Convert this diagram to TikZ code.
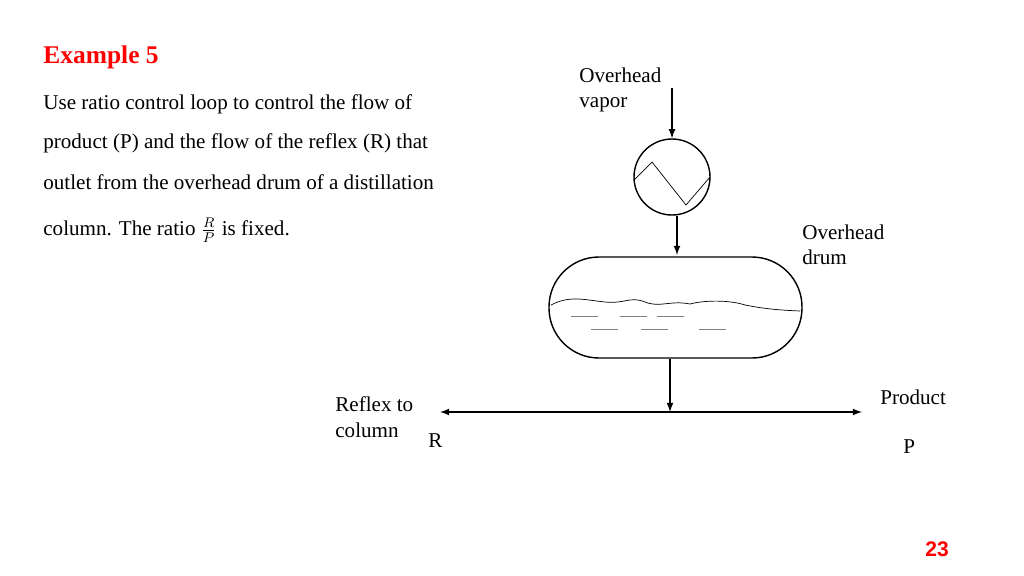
\documentclass[tikz,border=0pt]{standalone}
\usepackage{fontspec}
\setmainfont{Liberation Serif}
\newfontfamily\numfont{Liberation Sans}
\usetikzlibrary{arrows}
\begin{document}
\begin{tikzpicture}[x=0.02cm,y=-0.02cm,
    txt/.style={anchor=west,font=\fontsize{12}{14.5}\selectfont,inner sep=0pt},
    flow/.style={thick,-latex}]
        \useasboundingbox (0,0) rectangle (1024,575);

        % Title and statement
        \node[txt,font=\fontsize{14.5}{16}\selectfont\bfseries,text=red] (title) at (43,57) {Example 5};
        \node[txt] (l1) at (43,104) {Use ratio control loop to control the flow of};
        \node[txt] (l2) at (43,143) {product (P) and the flow of the reflex (R) that};
        \node[txt] (l3) at (43,182) {outlet from the overhead drum of a distillation};
        \node[txt] (l4) at (43,230) {column. The ratio $\frac{R}{P}$ is fixed.};

        % Condenser
        \node[draw,thick,circle,minimum size=76*0.02cm,inner sep=0pt] (cond) at (672,177) {};
        \draw (634,180) -- (652,162) -- (686,205) -- (710,177);
        \coordinate (vin) at (672,88);
        \draw[flow] (vin) -- (cond.north);
        \node[txt,align=left] (vap) at (579,90) {Overhead\\vapor};

        % Overhead drum
        \node[draw,thick,rounded corners=50*0.02cm,minimum width=253*0.02cm,minimum height=101*0.02cm] (drum) at (675.5,307.5) {};
        \coordinate (c1) at (677,216);
        \coordinate (c2) at (677,255);
        \draw[flow] (c1) -- (c2);
        \node[txt,align=left] (drumlbl) at (802,245) {Overhead\\drum};

        % Liquid surface
        \draw (551,305) .. controls (570,295) and (585,300) .. (605,302)
            .. controls (625,304) and (630,296) .. (645,302)
            .. controls (660,308) and (670,300) .. (690,304)
            .. controls (705,300) and (730,300) .. (745,305)
            .. controls (760,308) and (775,310) .. (800,311);
        \foreach \a/\y in {571/316,620/316,657/316,591/329,641/329,699/329}{
            \draw[gray] (\a,\y) -- ++(27,0);
        }

        % Outlet lines
        \coordinate (split) at (670,412);
        \coordinate (rout) at (440,412);
        \coordinate (pout) at (862,412);
        \draw[flow] (drum.south -| split) -- (split);
        \draw[thick,latex-latex] (rout) -- (pout);

        \node[txt,align=left] (reflex) at (335,417) {Reflex to\\column};
        \node[txt] (rlbl) at (428,441) {R};
        \node[txt] (prod) at (880,397) {Product};
        \node[txt] (plbl) at (903,447) {P};

        \node[txt,font=\numfont\fontsize{12}{14}\selectfont\bfseries,text=red] (page) at (925,549) {23};
\end{tikzpicture}
\end{document}
